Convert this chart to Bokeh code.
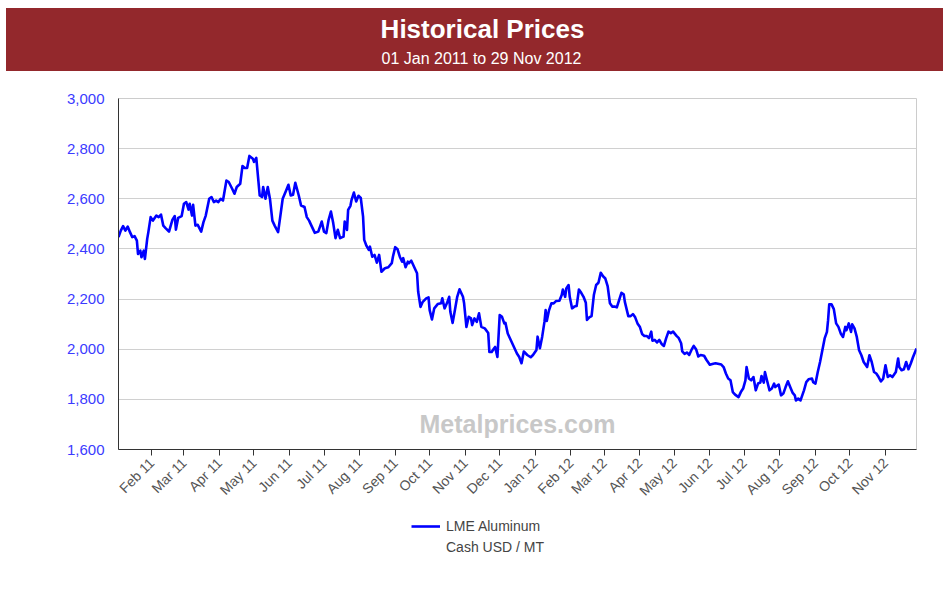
import pandas as pd
from math import pi
from bokeh.plotting import figure
from bokeh.layouts import column, row
from bokeh.models import (Range1d, FixedTicker, NumeralTickFormatter, Spacer,
                          DatetimeTickFormatter, Legend, LegendItem, Label)
from bokeh.core.properties import value
from bokeh.embed import file_html
from bokeh.resources import INLINE

FONT = "Liberation Sans"

# ---------------- data ----------------
dates_2011_h1 = ["2011-01-03","2011-01-05","2011-01-07","2011-01-09","2011-01-11","2011-01-13","2011-01-15","2011-01-17","2011-01-19","2011-01-20","2011-01-22","2011-01-23","2011-01-25","2011-01-26","2011-01-28","2011-01-29","2011-01-31","2011-02-02","2011-02-05","2011-02-07","2011-02-09","2011-02-11","2011-02-13","2011-02-16","2011-02-19","2011-02-21","2011-02-22","2011-02-24","2011-02-27","2011-03-01","2011-03-03","2011-03-05","2011-03-06","2011-03-08","2011-03-09","2011-03-11","2011-03-13","2011-03-16","2011-03-18","2011-03-20","2011-03-23","2011-03-25","2011-03-27","2011-03-29","2011-03-31","2011-04-02","2011-04-04","2011-04-07","2011-04-09","2011-04-12","2011-04-14","2011-04-16","2011-04-19","2011-04-21","2011-04-23","2011-04-25","2011-04-27","2011-04-30","2011-05-01","2011-05-03","2011-05-06","2011-05-08","2011-05-09","2011-05-11","2011-05-13","2011-05-15","2011-05-17","2011-05-19","2011-05-22","2011-05-24","2011-05-26","2011-05-29","2011-05-31","2011-06-02","2011-06-04","2011-06-06","2011-06-09","2011-06-11","2011-06-14","2011-06-16","2011-06-18","2011-06-20","2011-06-23","2011-06-26"]
prices_2011_h1 = [2447,2473,2491,2473,2489,2467,2447,2451,2433,2380,2393,2367,2393,2360,2440,2467,2527,2513,2533,2527,2537,2493,2483,2469,2517,2531,2477,2524,2531,2580,2587,2557,2580,2533,2576,2493,2496,2469,2507,2533,2600,2607,2587,2593,2587,2600,2593,2673,2667,2640,2620,2647,2660,2731,2723,2723,2771,2760,2747,2763,2613,2607,2647,2600,2647,2597,2513,2493,2467,2533,2600,2633,2656,2613,2616,2664,2613,2573,2567,2527,2513,2493,2464,2469]

dates_2011_h2 = ["2011-06-29","2011-07-01","2011-07-03","2011-07-05","2011-07-07","2011-07-09","2011-07-11","2011-07-13","2011-07-15","2011-07-18","2011-07-19","2011-07-21","2011-07-22","2011-07-24","2011-07-25","2011-07-27","2011-07-29","2011-07-31","2011-08-02","2011-08-04","2011-08-05","2011-08-07","2011-08-09","2011-08-10","2011-08-12","2011-08-14","2011-08-16","2011-08-18","2011-08-20","2011-08-23","2011-08-26","2011-08-29","2011-08-30","2011-09-01","2011-09-03","2011-09-05","2011-09-07","2011-09-08","2011-09-10","2011-09-12","2011-09-13","2011-09-15","2011-09-18","2011-09-20","2011-09-21","2011-09-23","2011-09-25","2011-09-28","2011-09-30","2011-10-01","2011-10-03","2011-10-05","2011-10-08","2011-10-11","2011-10-12","2011-10-14","2011-10-16","2011-10-18","2011-10-19","2011-10-21","2011-10-23","2011-10-25","2011-10-27","2011-10-30","2011-10-31","2011-11-02","2011-11-04","2011-11-06","2011-11-07","2011-11-09","2011-11-11","2011-11-13","2011-11-15","2011-11-18","2011-11-21","2011-11-22","2011-11-24","2011-11-26","2011-11-27","2011-11-29","2011-12-01","2011-12-03","2011-12-05","2011-12-06","2011-12-08","2011-12-10","2011-12-12","2011-12-14","2011-12-16","2011-12-18","2011-12-20","2011-12-22","2011-12-25","2011-12-28","2011-12-30"]
prices_2011_h2 = [2509,2469,2463,2516,2549,2503,2443,2476,2443,2449,2509,2476,2556,2572,2596,2625,2589,2612,2603,2529,2436,2412,2396,2409,2369,2376,2345,2376,2309,2323,2327,2343,2369,2407,2399,2369,2349,2363,2327,2349,2343,2353,2323,2303,2229,2169,2189,2203,2207,2156,2119,2163,2180,2183,2203,2163,2183,2209,2149,2105,2156,2209,2239,2209,2183,2089,2129,2123,2096,2123,2109,2143,2089,2083,2065,1989,1989,2003,2009,1969,2136,2129,2103,2105,2063,2043,2023,2003,1983,1969,1944,1991,1977,1968,1977]

dates_2012_h1 = ["2012-01-02","2012-01-03","2012-01-05","2012-01-07","2012-01-09","2012-01-10","2012-01-11","2012-01-13","2012-01-15","2012-01-17","2012-01-19","2012-01-22","2012-01-24","2012-01-25","2012-01-27","2012-01-28","2012-01-30","2012-01-31","2012-02-02","2012-02-04","2012-02-06","2012-02-08","2012-02-10","2012-02-12","2012-02-14","2012-02-15","2012-02-17","2012-02-19","2012-02-21","2012-02-23","2012-02-25","2012-02-27","2012-02-29","2012-03-02","2012-03-04","2012-03-06","2012-03-08","2012-03-10","2012-03-12","2012-03-14","2012-03-16","2012-03-18","2012-03-19","2012-03-22","2012-03-24","2012-03-26","2012-03-28","2012-03-30","2012-04-01","2012-04-03","2012-04-05","2012-04-07","2012-04-09","2012-04-11","2012-04-12","2012-04-14","2012-04-16","2012-04-18","2012-04-20","2012-04-22","2012-04-24","2012-04-26","2012-04-28","2012-04-30","2012-05-03","2012-05-05","2012-05-07","2012-05-08","2012-05-10","2012-05-12","2012-05-14","2012-05-16","2012-05-18","2012-05-20","2012-05-22","2012-05-24","2012-05-27","2012-05-29","2012-06-01","2012-06-04","2012-06-06","2012-06-08"]
prices_2012_h1 = [1997,2050,2004,2050,2110,2156,2113,2156,2183,2183,2192,2193,2216,2238,2209,2242,2256,2209,2163,2170,2172,2238,2225,2209,2185,2117,2127,2132,2216,2256,2265,2305,2291,2282,2252,2183,2170,2170,2167,2196,2225,2219,2189,2132,2132,2140,2127,2103,2090,2061,2053,2053,2044,2070,2034,2037,2027,2037,2021,2013,2044,2070,2064,2070,2053,2044,2024,1991,1981,1987,1977,1997,2013,2000,1971,1977,1974,1958,1938,1942,1944,1942]

dates_2012_h2 = ["2012-06-11","2012-06-13","2012-06-15","2012-06-17","2012-06-19","2012-06-21","2012-06-23","2012-06-26","2012-06-28","2012-06-30","2012-07-02","2012-07-03","2012-07-05","2012-07-07","2012-07-09","2012-07-11","2012-07-13","2012-07-15","2012-07-16","2012-07-18","2012-07-19","2012-07-21","2012-07-23","2012-07-25","2012-07-27","2012-07-28","2012-07-31","2012-08-02","2012-08-04","2012-08-06","2012-08-08","2012-08-10","2012-08-12","2012-08-14","2012-08-15","2012-08-17","2012-08-19","2012-08-22","2012-08-24","2012-08-26","2012-08-29","2012-08-30","2012-09-01","2012-09-03","2012-09-05","2012-09-07","2012-09-09","2012-09-11","2012-09-12","2012-09-13","2012-09-15","2012-09-17","2012-09-19","2012-09-21","2012-09-23","2012-09-25","2012-09-27","2012-09-28","2012-09-30","2012-10-02","2012-10-03","2012-10-05","2012-10-07","2012-10-09","2012-10-11","2012-10-13","2012-10-16","2012-10-18","2012-10-20","2012-10-22","2012-10-24","2012-10-26","2012-10-28","2012-10-30","2012-11-01","2012-11-03","2012-11-05","2012-11-07","2012-11-10","2012-11-12","2012-11-13","2012-11-15","2012-11-17","2012-11-19","2012-11-21","2012-11-23","2012-11-25","2012-11-28"]
prices_2012_h2 = [1939,1929,1903,1883,1876,1829,1819,1809,1829,1843,1876,1929,1883,1876,1889,1836,1863,1867,1893,1867,1909,1872,1836,1843,1863,1849,1859,1816,1823,1849,1872,1849,1827,1816,1796,1803,1796,1836,1869,1880,1883,1869,1863,1909,1949,1996,2043,2069,2116,2179,2179,2160,2103,2089,2063,2049,2089,2076,2103,2069,2099,2083,2049,1996,1976,1949,1929,1976,1949,1909,1903,1889,1872,1883,1936,1889,1896,1889,1909,1963,1929,1916,1920,1949,1920,1943,1969,2003]

x_start, x_end = "2011-01-03", "2012-11-28"
month_ticks = ["2011-02-01","2011-03-01","2011-04-01","2011-05-01","2011-06-01","2011-07-01",
               "2011-08-01","2011-09-01","2011-10-01","2011-11-01","2011-12-01","2012-01-01",
               "2012-02-01","2012-03-01","2012-04-01","2012-05-01","2012-06-01","2012-07-01",
               "2012-08-01","2012-09-01","2012-10-01","2012-11-01"]
y_ticks = [1600, 1800, 2000, 2200, 2400, 2600, 2800, 3000]
title_text = "Historical Prices"
subtitle_text = "01 Jan 2011 to 29 Nov 2012"
series_name = "LME Aluminum"
series_unit = "Cash USD / MT"
watermark = "Metalprices.com"

dates = pd.to_datetime(dates_2011_h1 + dates_2011_h2 + dates_2012_h1 + dates_2012_h2)
prices = prices_2011_h1 + prices_2011_h2 + prices_2012_h1 + prices_2012_h2

W = 937
BL, BR = 112, 27          # left / right borders (frame = 798 px)
LINE_COLOR, LINE_W = "#0000FF", 2.6

# ---------------- header band ----------------
HDR = "#93282C"
header = figure(width=W, height=63, x_range=Range1d(0, W - BL - BR), y_range=Range1d(0, 63),
                output_backend="svg", toolbar_location=None,
                min_border_left=BL, min_border_right=BR, min_border_top=0, min_border_bottom=0,
                x_axis_type=None, y_axis_type=None,
                background_fill_color=None, border_fill_color=None, outline_line_color=None,
                styles={"background-color": HDR})
header.text(x=[476 - BL], y=[43], text=[title_text], text_font=value(FONT), text_font_size="26px",
            text_font_style="bold", text_color="white", text_align="center", text_baseline="middle")
header.text(x=[475 - BL], y=[13], text=[subtitle_text], text_font=value(FONT), text_font_size="16px",
            text_color="white", text_align="center", text_baseline="middle")

# ---------------- main chart ----------------
t0, t1 = pd.Timestamp(x_start), pd.Timestamp(x_end)
p = figure(width=W, height=440, x_axis_type="datetime",
           x_range=Range1d(t0, t1), y_range=Range1d(y_ticks[0], y_ticks[-1]),
           output_backend="svg", toolbar_location=None,
           min_border_left=BL, min_border_right=BR, min_border_top=27, min_border_bottom=62,
           outline_line_color="#cccccc", background_fill_color="white", border_fill_color="white")

p.line(dates, prices, line_color=LINE_COLOR, line_width=LINE_W, line_join="round")

p.xgrid.visible = False
p.ygrid.grid_line_color = "#d0d0d0"
p.ygrid.grid_line_width = 1

p.yaxis.ticker = FixedTicker(ticks=y_ticks)
p.yaxis.formatter = NumeralTickFormatter(format="0,0")
p.yaxis.major_tick_out = 0
p.yaxis.major_tick_in = 0
p.yaxis.minor_tick_line_color = None
p.yaxis.major_label_standoff = 14
p.yaxis.major_label_text_color = "#3b3bff"
p.yaxis.major_label_text_font = FONT
p.yaxis.major_label_text_font_size = "15px"
p.yaxis.axis_line_color = "#333333"

p.xaxis.ticker = FixedTicker(ticks=[pd.Timestamp(d).value / 1e6 for d in month_ticks])
p.xaxis.formatter = DatetimeTickFormatter(days="%b %y", months="%b %y", years="%b %y")
p.xaxis.major_label_orientation = pi / 4
p.xaxis.major_tick_out = 6
p.xaxis.major_tick_in = 0
p.xaxis.minor_tick_line_color = None
p.xaxis.major_label_standoff = 5
p.xaxis.major_label_text_color = "#555555"
p.xaxis.major_label_text_font = FONT
p.xaxis.major_label_text_font_size = "14px"
p.xaxis.axis_line_color = "#333333"
p.xaxis.major_tick_line_color = "#333333"

mid_ms = (t0.value + t1.value) / 2 / 1e6
p.add_layout(Label(x=mid_ms, y=1700, text=watermark, text_align="center", text_baseline="middle",
                   text_font=FONT, text_font_size="25px", text_font_style="bold",
                   text_color="#c8c8c8"))

# ---------------- legend strip ----------------
# the key line carries the series itself; the strip's range keeps it out of view,
# so only its legend sample is drawn
leg = figure(width=W, height=77, x_range=Range1d(0, 1), y_range=Range1d(0, 1),
             output_backend="svg", toolbar_location=None,
             min_border_left=BL, min_border_right=BR, min_border_top=0, min_border_bottom=0,
             x_axis_type=None, y_axis_type=None,
             background_fill_color=None, border_fill_color=None, outline_line_color=None)
key_line = leg.line(dates, prices, line_color=LINE_COLOR, line_width=LINE_W)
key_blank = leg.line(dates, prices, line_alpha=0)
legend = Legend(items=[LegendItem(label=series_name, renderers=[key_line]),
                       LegendItem(label=series_unit, renderers=[key_blank])],
                location=(289, 27), glyph_width=29, glyph_height=20, label_height=20,
                label_standoff=6, spacing=1, padding=4, margin=0,
                label_text_font=FONT, label_text_font_size="14px", label_text_color="#444444",
                border_line_alpha=0, background_fill_alpha=0)
leg.add_layout(legend)

layout = row(Spacer(width=6), column(Spacer(height=8), header, p, leg))
open("out.html", "w").write(file_html(layout, INLINE))
